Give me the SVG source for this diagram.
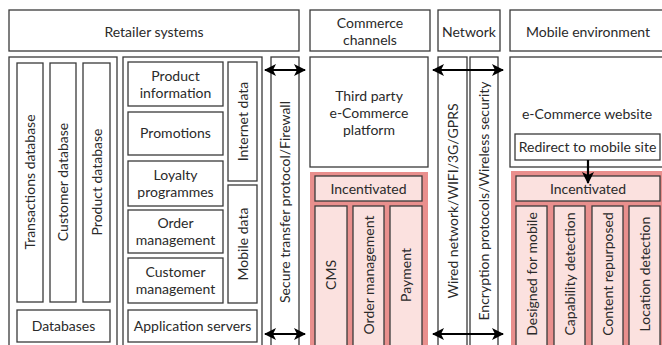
<svg xmlns="http://www.w3.org/2000/svg" width="662" height="345" viewBox="0 0 662 345">
<defs>
<style>
.b{fill:#fff;stroke:#3a3a3a;stroke-width:1.3}
.pk{fill:#e98f8d;stroke:none}
.lp{fill:#fbe1df;stroke:#3a3a3a;stroke-width:1.3}
text{font-family:Lato,"Open Sans","Liberation Sans",sans-serif;font-size:14px;fill:#2a2a2a;text-anchor:middle}
.ar{stroke:#000;stroke-width:2.2;fill:none}
</style>
<marker id="ah" viewBox="0 0 12 12" refX="11" refY="6" markerWidth="12" markerHeight="12" markerUnits="userSpaceOnUse" orient="auto-start-reverse">
<path d="M0,0 L12,6 L0,12 L3,6 Z" fill="#000"/>
</marker>
</defs>
<rect width="662" height="345" fill="#fff"/>

<g id="hdr-retailer"><rect class="b" x="9" y="10" width="290" height="41"/><text x="154" y="37">Retailer systems</text></g>
<g id="hdr-commerce"><rect class="b" x="310" y="10" width="120" height="41"/><text x="370" y="28">Commerce</text><text x="370" y="45">channels</text></g>
<g id="hdr-network"><rect class="b" x="438" y="10" width="62" height="41"/><text x="469" y="37">Network</text></g>
<g id="hdr-mobile"><rect class="b" x="510" y="10" width="160" height="41"/><text x="588" y="37">Mobile environment</text></g>

<g id="panel-db">
<rect class="b" x="9" y="57" width="108" height="300"/>
<g id="transactions-db"><rect class="b" x="17" y="63" width="26" height="239"/><text transform="translate(30,182) rotate(-90)" x="0" y="5">Transactions database</text></g>
<g id="customer-db"><rect class="b" x="50" y="63" width="26" height="239"/><text transform="translate(63,182) rotate(-90)" x="0" y="5">Customer database</text></g>
<g id="product-db"><rect class="b" x="83" y="63" width="27" height="239"/><text transform="translate(96.5,182) rotate(-90)" x="0" y="5">Product database</text></g>
<g id="databases"><rect class="b" x="17" y="310" width="93" height="32"/><text x="63.5" y="331">Databases</text></g>
</g>

<g id="panel-app">
<rect class="b" x="123" y="57" width="139" height="300"/>
<g id="product-info"><rect class="b" x="128" y="62" width="95" height="44"/><text x="175.5" y="81">Product</text><text x="175.5" y="98">information</text></g>
<g id="promotions"><rect class="b" x="128" y="112" width="95" height="43"/><text x="175.5" y="138">Promotions</text></g>
<g id="loyalty"><rect class="b" x="128" y="161" width="95" height="45"/><text x="175.5" y="180">Loyalty</text><text x="175.5" y="197">programmes</text></g>
<g id="order"><rect class="b" x="128" y="210" width="95" height="43"/><text x="175.5" y="228">Order</text><text x="175.5" y="245">management</text></g>
<g id="customer"><rect class="b" x="128" y="258" width="95" height="45"/><text x="175.5" y="277">Customer</text><text x="175.5" y="294">management</text></g>
<g id="internet-data"><rect class="b" x="228" y="62" width="29" height="119"/><text transform="translate(242.5,121.5) rotate(-90)" x="0" y="5">Internet data</text></g>
<g id="mobile-data"><rect class="b" x="228" y="185" width="29" height="118"/><text transform="translate(242.5,244) rotate(-90)" x="0" y="5">Mobile data</text></g>
<g id="app-servers"><rect class="b" x="128" y="310" width="129" height="32"/><text x="192.5" y="331">Application servers</text></g>
</g>

<g id="secure"><rect class="b" x="271" y="57" width="28" height="300"/><text transform="translate(285,202) rotate(-90)" x="0" y="5">Secure transfer protocol/Firewall</text></g>

<g id="third-party"><rect class="b" x="310" y="57" width="118" height="110"/><text x="369" y="101">Third party</text><text x="369" y="118">e-Commerce</text><text x="369" y="135">platform</text></g>

<g id="commerce-incentivated">
<rect class="pk" x="310" y="172" width="118" height="180"/>
<g id="inc1"><rect class="lp" x="315" y="176" width="107" height="25"/><text x="368.5" y="193.5">Incentivated</text></g>
<g id="cms"><rect class="lp" x="315" y="206" width="32" height="150"/><text transform="translate(331,275) rotate(-90)" x="0" y="5">CMS</text></g>
<g id="order-mgmt"><rect class="lp" x="353" y="206" width="31" height="150"/><text transform="translate(368.5,275) rotate(-90)" x="0" y="5">Order management</text></g>
<g id="payment"><rect class="lp" x="390" y="206" width="32" height="150"/><text transform="translate(406,275) rotate(-90)" x="0" y="5">Payment</text></g>
</g>

<g id="wired"><rect class="b" x="438" y="57" width="29" height="300"/><text transform="translate(452.5,201) rotate(-90)" x="0" y="5">Wired network/WIFI/3G/GPRS</text></g>
<g id="encryption"><rect class="b" x="470" y="57" width="28" height="300"/><text transform="translate(484,201) rotate(-90)" x="0" y="5">Encryption protocols/Wireless security</text></g>

<g id="mobile-site"><rect class="b" x="510" y="57" width="160" height="110"/><text x="587" y="119">e-Commerce website</text></g>
<g id="redirect"><rect class="b" x="515" y="134" width="145" height="26"/><text x="587.5" y="152">Redirect to mobile site</text></g>

<g id="mobile-incentivated">
<rect class="pk" x="511" y="171" width="160" height="180"/>
<g id="inc2"><rect class="lp" x="516" y="176" width="144" height="25"/><text x="588" y="193.5">Incentivated</text></g>
<g id="designed"><rect class="lp" x="516" y="206" width="31" height="150"/><text transform="translate(531.5,274) rotate(-90)" x="0" y="5">Designed for mobile</text></g>
<g id="capability"><rect class="lp" x="554" y="206" width="31" height="150"/><text transform="translate(569.5,274) rotate(-90)" x="0" y="5">Capability detection</text></g>
<g id="content"><rect class="lp" x="592" y="206" width="31" height="150"/><text transform="translate(607.5,274) rotate(-90)" x="0" y="5">Content repurposed</text></g>
<g id="location"><rect class="lp" x="629" y="206" width="31" height="150"/><text transform="translate(644.5,274) rotate(-90)" x="0" y="5">Location detection</text></g>
</g>

<g id="connectors">
<line class="ar" x1="265" y1="70" x2="305" y2="70" marker-start="url(#ah)" marker-end="url(#ah)"/>
<line class="ar" x1="265" y1="334" x2="305" y2="334" marker-start="url(#ah)" marker-end="url(#ah)"/>
<line class="ar" x1="433" y1="70" x2="503" y2="70" marker-start="url(#ah)" marker-end="url(#ah)"/>
<line class="ar" x1="433" y1="334" x2="503" y2="334" marker-start="url(#ah)" marker-end="url(#ah)"/>
<line class="ar" x1="588" y1="160" x2="588" y2="183" marker-end="url(#ah)"/>
</g>
</svg>
